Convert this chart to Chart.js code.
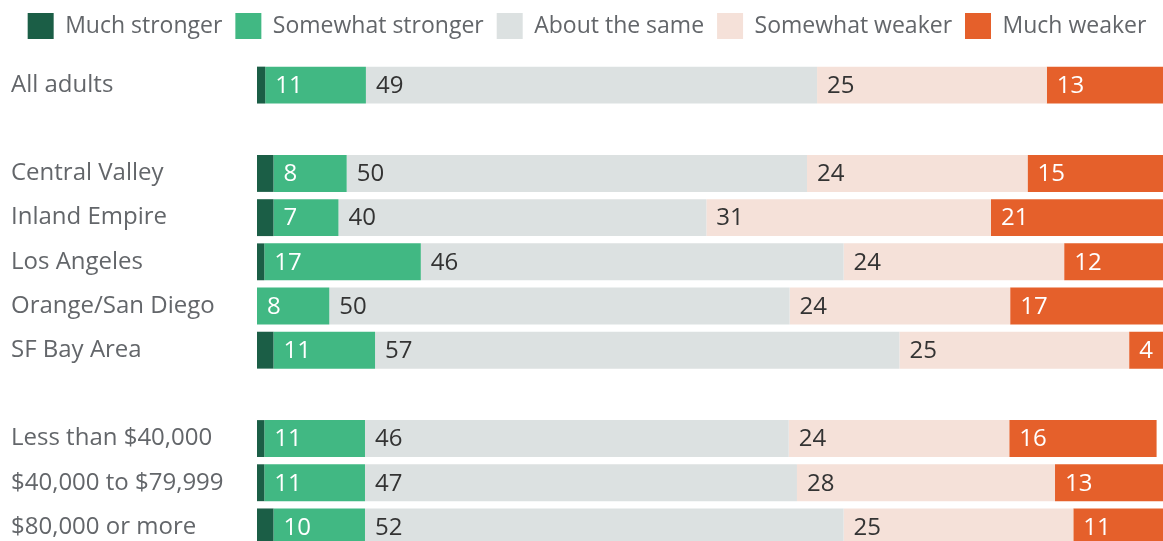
<!DOCTYPE html>
<html>
<head>
<meta charset="utf-8">
<script src="https://cdn.jsdelivr.net/npm/chart.js@4.4.1/dist/chart.umd.min.js"></script>
<style>
  html, body { margin: 0; padding: 0; background: #fff; overflow: hidden; }
  canvas { display: block; }
</style>
</head>
<body>
<!-- canvas is a bit taller than the window: the last row is cut at the bottom edge like in the source -->
<canvas id="mygra" width="1163" height="552"></canvas>
<script>
// categories ('' = spacer rows between groups)
const categories = ['All adults', '', 'Central Valley', 'Inland Empire', 'Los Angeles', 'Orange/San Diego',
    'SF Bay Area', '', 'Less than $40,000', '$40,000 to $79,999', '$80,000 or more'];

// percentages
const muchStronger     = [0.9, null, 1.8, 1.8, 0.8, 0, 1.8, null, 0.8, 0.8, 1.8];
const somewhatStronger = [11.0, null, 8.0, 7.1, 17.1, 7.9, 11.1, null, 11.0, 11.0, 10.0];
const aboutSame        = [49.3, null, 50.3, 40.2, 46.2, 50.3, 57.3, null, 46.3, 47.2, 52.3];
const somewhatWeaker   = [25.1, null, 24.1, 31.1, 24.1, 24.1, 25.1, null, 24.1, 28.2, 25.1];
const muchWeaker       = [13.0, null, 15.0, 21.0, 12.0, 17.0, 4.0, null, 16.1, 13.0, 11.0];

const seriesNames = ['Much stronger', 'Somewhat stronger', 'About the same', 'Somewhat weaker', 'Much weaker'];
const colors = ['#1b5e46', '#41b883', '#dce1e1', '#f5e1d9', '#e5602b'];
const labelColors = [null, '#ffffff', '#333333', '#333333', '#ffffff'];

const FONT = '"Open Sans", "Noto Sans", sans-serif';

// draws the rounded value at the left edge of each segment (first series has no label)
const valueLabels = {
    id: 'valueLabels',
    afterDatasetsDraw(chart) {
        const ctx = chart.ctx;
        ctx.save();
        ctx.font = '24px ' + FONT;
        ctx.textBaseline = 'middle';
        ctx.textAlign = 'left';
        chart.data.datasets.forEach((ds, i) => {
            if (i === 0) return;
            chart.getDatasetMeta(i).data.forEach((bar, j) => {
                const v = ds.data[j];
                if (v == null) return;
                ctx.fillStyle = labelColors[i];
                ctx.fillText(String(Math.round(v)), Math.min(bar.base, bar.x) + 10, bar.y + 1);
            });
        });
        ctx.restore();
    }
};

const allSeries = [muchStronger, somewhatStronger, aboutSame, somewhatWeaker, muchWeaker];

const data = {
    labels: categories,
    datasets: allSeries.map((values, i) => ({
        label: seriesNames[i],
        data: values,
        backgroundColor: colors[i],
        borderWidth: 0,
        barPercentage: 0.835,
        categoryPercentage: 1.0
    }))
};

const config = {
    type: 'bar',
    data: data,
    options: {
        indexAxis: 'y',
        responsive: false,
        animation: false,
        layout: { padding: { top: 0, left: 11, right: 0, bottom: 3 } },
        plugins: {
            tooltip: { enabled: false },
            legend: {
                position: 'top',
                align: 'center',
                labels: {
                    boxWidth: 26,
                    boxHeight: 26,
                    padding: 13,
                    color: '#63666a',
                    font: { family: FONT, size: 23 }
                }
            }
        },
        scales: {
            x: {
                stacked: true,
                position: 'top',
                min: 0,
                max: 99,
                grid: { display: false },
                border: { display: false },
                ticks: { display: false },
                afterFit: function (scale) { scale.height = 14; }
            },
            y: {
                stacked: true,
                grid: { display: false },
                border: { display: false },
                ticks: {
                    crossAlign: 'far',
                    padding: 0,
                    color: '#63666a',
                    font: { family: FONT, size: 24 }
                },
                afterFit: function (scale) {
                    scale.width = 246;
                    scale.paddingTop = 0;
                    scale.paddingBottom = 0;
                }
            }
        }
    },
    plugins: [valueLabels]
};

var ctx = document.getElementById('mygra').getContext('2d');
window.myChart = new Chart(ctx, config);
</script>
</body>
</html>
